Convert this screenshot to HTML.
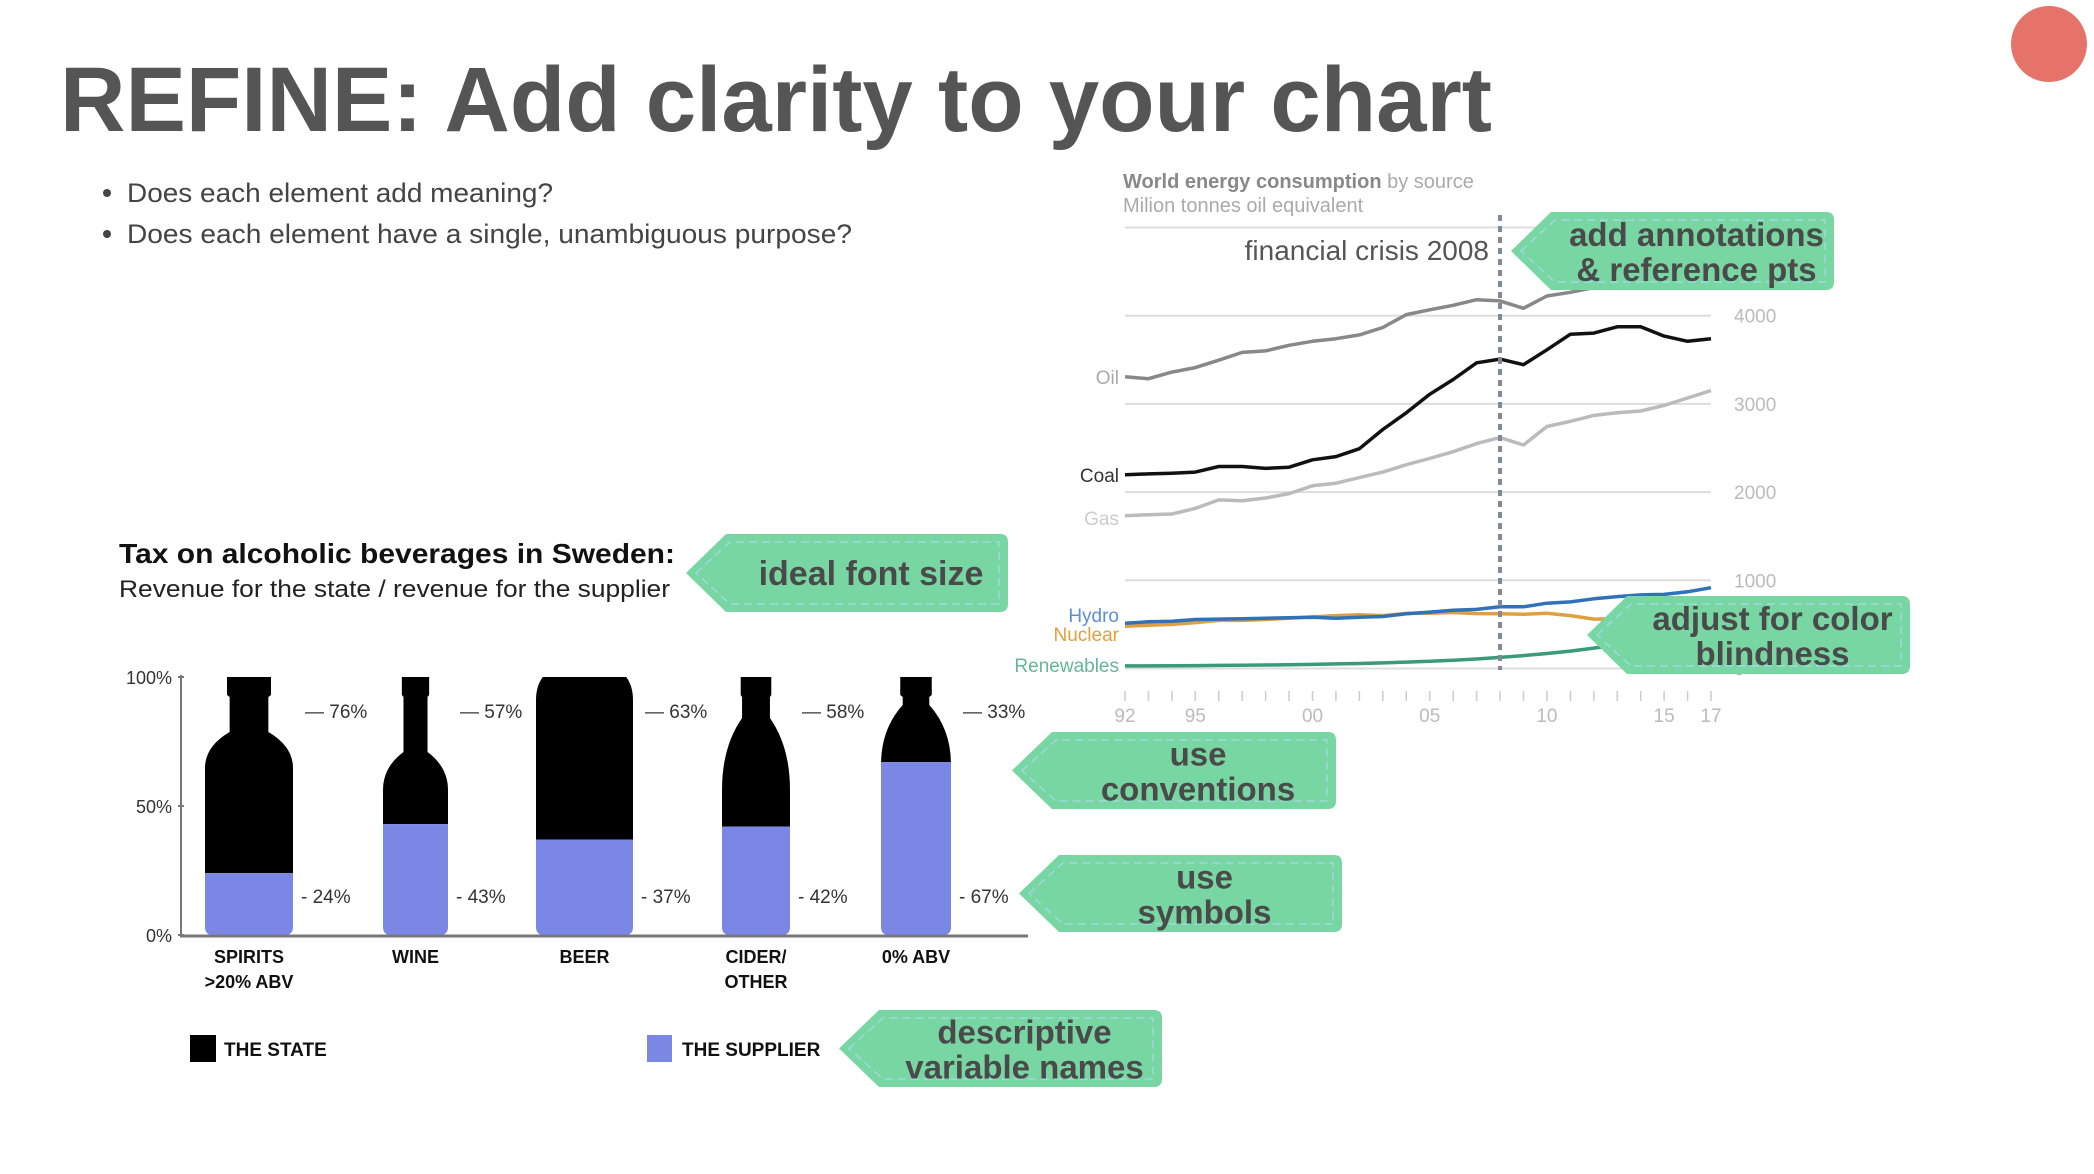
<!DOCTYPE html>
<html><head><meta charset="utf-8"><style>
html,body{margin:0;padding:0;background:#fff;}
svg{display:block;font-family:"Liberation Sans",sans-serif;}
</style></head><body>
<svg id="root" width="2094" height="1174" viewBox="0 0 2094 1174" xmlns="http://www.w3.org/2000/svg">
<circle cx="2049" cy="44" r="38" fill="#e5736a"/>
<text x="60" y="131" font-size="92" font-weight="bold" fill="#555" textLength="1432" lengthAdjust="spacingAndGlyphs">REFINE: Add clarity to your chart</text>
<g fill="#444" font-size="27">
<circle cx="107" cy="193" r="4" fill="#444"/>
<text x="127" y="202" textLength="426" lengthAdjust="spacingAndGlyphs">Does each element add meaning?</text>
<circle cx="107" cy="234" r="4" fill="#444"/>
<text x="127" y="243" textLength="725" lengthAdjust="spacingAndGlyphs">Does each element have a single, unambiguous purpose?</text>
</g>
<g id="energy"></g>
<g id="alcohol"></g>
<g id="tags"></g>
</svg>
<script>
const NS="http://www.w3.org/2000/svg";
function mk(parent,tag,attrs,text){const e=document.createElementNS(NS,tag);for(const k in attrs)e.setAttribute(k,attrs[k]);if(text!==undefined)e.textContent=text;parent.appendChild(e);return e;}

// ---------- Energy chart data ----------
const years=[1992,1993,1994,1995,1996,1997,1998,1999,2000,2001,2002,2003,2004,2005,2006,2007,2008,2009,2010,2011,2012,2013,2014,2015,2016,2017];
const oilValues=[3307,3286,3361,3412,3496,3584,3601,3664,3710,3739,3782,3866,4013,4067,4118,4181,4168,4084,4223,4265,4319,4349,4370,4391,4424,4454];
const coalValues=[2197,2206,2214,2227,2290,2290,2269,2282,2366,2403,2492,2710,2899,3109,3277,3466,3508,3445,3613,3790,3803,3874,3874,3769,3710,3739];
const gasValues=[1731,1744,1752,1815,1912,1903,1933,1983,2071,2101,2164,2227,2311,2382,2458,2550,2618,2534,2744,2803,2870,2899,2920,2983,3067,3151];
const hydroValues=[513,530,535,555,560,565,570,575,580,570,580,590,620,640,660,670,700,700,740,755,790,815,835,840,870,916];
const nuclearValues=[480,490,500,520,545,545,555,570,585,600,610,600,625,627,635,622,620,614,626,600,560,563,575,583,592,596];
const renewValues=[29,30,31,33,35,37,40,43,47,52,57,64,73,82,94,108,126,146,170,197,231,266,303,345,392,440];
const yTicks=[0,1000,2000,3000,4000,5000];
const yTickLabels=["0","1000","2000","3000","4000",""];
const xTickLabels=[[1992,"92"],[1995,"95"],[2000,"00"],[2005,"05"],[2010,"10"],[2015,"15"],[2017,"17"]];
const crisisYear=2008;

const eg=document.getElementById('energy');
const ex=y=>1125+(y-1992)*23.44;
const ey=v=>668.5-v*0.0882;
let t;
t=mk(eg,'text',{x:1123,y:188,'font-size':20,fill:'#888'});


t.innerHTML='<tspan font-weight="bold">World energy consumption</tspan><tspan fill="#aaa"> by source</tspan>';
t=mk(eg,'text',{x:1123,y:212,'font-size':20,fill:'#aaa'},'Milion tonnes oil equivalent');


yTicks.forEach((v,i)=>{
  const l=mk(eg,'line',{x1:1125,x2:1711,y1:ey(v),y2:ey(v),stroke:'#ddd','stroke-width':2});
  
  
  if(yTickLabels[i]){const tl=mk(eg,'text',{x:1734,y:ey(v)+7,'font-size':19,fill:'#bbb'},yTickLabels[i]);
  
  }
});
years.forEach(y=>{const l=mk(eg,'line',{x1:ex(y),x2:ex(y),y1:691,y2:701,stroke:'#ccc','stroke-width':1.5});

});
xTickLabels.forEach(([y,s])=>{const tl=mk(eg,'text',{x:ex(y),y:722,'font-size':19,fill:'#bbb','text-anchor':'middle'},s);

});
const series=[
 ['oil',oilValues,'#888','Oil','#aaa'],['coal',coalValues,'#111','Coal','#333'],['gas',gasValues,'#bbb','Gas','#ccc'],
 ['nuclear',nuclearValues,'#e0a040','Nuclear','#e0a040'],['hydro',hydroValues,'#2f72b8','Hydro','#5b8fd0'],['renewables',renewValues,'#3a9a7a','Renewables','#66b59a']];
const labelY={oil:384,coal:482,gas:525,hydro:622,nuclear:641,renewables:672};
series.forEach(([k,vals,col,lab,lc])=>{
  const d=vals.map((v,i)=>(i?'L':'M')+ex(years[i]).toFixed(1)+' '+ey(v).toFixed(1)).join(' ');
  const p=mk(eg,'path',{d:d,fill:'none',stroke:col,'stroke-width':3.5,'stroke-linejoin':'round'});
  
  
  const tl=mk(eg,'text',{x:1119,y:labelY[k],'font-size':19,fill:lc,'text-anchor':'end'},lab);
  
  
});
const cl=mk(eg,'line',{x1:ex(crisisYear),x2:ex(crisisYear),y1:215,y2:670,stroke:'#7f8a96','stroke-width':4,'stroke-dasharray':'6 5'});


t=mk(eg,'text',{x:1489,y:260,'font-size':28,fill:'#555','text-anchor':'end'},'financial crisis 2008');



// ---------- Alcohol chart data ----------
const categories=[["SPIRITS",">20% ABV"],["WINE"],["BEER"],["CIDER/","OTHER"],["0% ABV"]];
const stateShare=[76,57,63,58,33];
const supplierShare=[24,43,37,42,67];
const axisTicks=[0,50,100];

const ag=document.getElementById('alcohol');
const base=935, hgt=258;
const ay=p=>base-p/100*hgt;
t=mk(ag,'text',{x:119,y:563,'font-size':28,'font-weight':'bold',fill:'#111',textLength:556,lengthAdjust:'spacingAndGlyphs'},'Tax on alcoholic beverages in Sweden:');


t=mk(ag,'text',{x:119,y:597,'font-size':24,fill:'#222',textLength:551,lengthAdjust:'spacingAndGlyphs'},'Revenue for the state / revenue for the supplier');


axisTicks.forEach(p=>{const tl=mk(ag,'text',{x:172,y:ay(p)+7,'font-size':18,fill:'#333','text-anchor':'end'},p+'%');


mk(ag,'line',{x1:178,x2:184,y1:ay(p),y2:ay(p),stroke:'#777','stroke-width':2});});
let l=mk(ag,'line',{x1:181,x2:181,y1:675,y2:936,stroke:'#777','stroke-width':2});


// bottle shape specs (geometry only)
const shapes=[
 {x:205,w:88,nw:0.44,s1:732,s2:768,cap:0.5},
 {x:383,w:65,nw:0.37,s1:752,s2:790,cap:0.42},
 {x:536,w:97,nw:0.86,s1:677,s2:700,cap:0.86},
 {x:722,w:68,nw:0.41,s1:718,s2:790,cap:0.45},
 {x:881,w:70,nw:0.38,s1:705,s2:765,cap:0.45}];
const defs=mk(document.getElementById('root'),'defs',{});
shapes.forEach((s,i)=>{
  const cx=s.x+s.w/2, nw=s.w*s.nw/2, cw=s.w*s.cap/2, L=s.x, R=s.x+s.w, top=677;
  const d=`M${cx-cw} ${top} L${cx+cw} ${top} L${cx+cw} ${top+18} L${cx+nw} ${top+20} L${cx+nw} ${s.s1} Q${R} ${s.s1+(s.s2-s.s1)*0.4} ${R} ${s.s2} L${R} ${base-8} Q${R} ${base} ${R-8} ${base} L${L+8} ${base} Q${L} ${base} ${L} ${base-8} L${L} ${s.s2} Q${L} ${s.s1+(s.s2-s.s1)*0.4} ${cx-nw} ${s.s1} L${cx-nw} ${top+20} L${cx-cw} ${top+18} Z`;
  const cp=mk(defs,'clipPath',{id:'clip'+i});
  mk(cp,'path',{d:d});
  const g=mk(ag,'g',{'clip-path':'url(#clip'+i+')'});
  
  
  const r1=mk(g,'rect',{x:L,y:ay(100),width:s.w,height:ay(supplierShare[i])-ay(100),fill:'#000'});
  
  
  const r2=mk(g,'rect',{x:L,y:ay(supplierShare[i]),width:s.w,height:base-ay(supplierShare[i]),fill:'#7b87e4'});
  
  
  const tl=mk(ag,'text',{x:R+12,y:718,'font-size':19,fill:'#333'},'— '+stateShare[i]+'%');
  
  
  const bl=mk(ag,'text',{x:R+8,y:903,'font-size':19,fill:'#333'},'- '+supplierShare[i]+'%');
  
  
  categories[i].forEach((ln,j)=>{const c=mk(ag,'text',{x:cx,y:963+j*25,'font-size':18,'font-weight':'bold',fill:'#111','text-anchor':'middle'},ln);
  
  });
});
l=mk(ag,'line',{x1:180,x2:1028,y1:936,y2:936,stroke:'#777','stroke-width':3});


let r=mk(ag,'rect',{x:190,y:1035,width:26,height:27,fill:'#000'});


t=mk(ag,'text',{x:224,y:1056,'font-size':19,'font-weight':'bold',fill:'#111'},'THE STATE');


r=mk(ag,'rect',{x:647,y:1035,width:25,height:27,fill:'#7b87e4'});


t=mk(ag,'text',{x:682,y:1056,'font-size':19,'font-weight':'bold',fill:'#111'},'THE SUPPLIER');



// ---------- Annotation tags ----------
const tg=document.getElementById('tags');
function tag(name,x0,y0,x1,y1,lines){
  const g=mk(tg,'g',{});
  
  
  const ym=(y0+y1)/2, d=40;
  mk(g,'path',{d:`M${x0} ${ym} L${x0+d} ${y0} L${x1-8} ${y0} Q${x1} ${y0} ${x1} ${y0+8} L${x1} ${y1-8} Q${x1} ${y1} ${x1-8} ${y1} L${x0+d} ${y1} Z`,fill:'#78d6a3'});
  mk(g,'path',{d:`M${x0+10} ${ym} L${x0+d+4} ${y0+8} L${x1-9} ${y0+8} L${x1-9} ${y1-8} L${x0+d+4} ${y1-8} Z`,fill:'none',stroke:'#9ed8e0','stroke-width':1.5,'stroke-dasharray':'8 5'});
  const cx=(x0+d+x1)/2+4;
  if(lines.length===1){mk(g,'text',{x:cx,y:ym+12,'font-size':34,'font-weight':'bold',fill:'#4a4a4a','text-anchor':'middle'},lines[0]);}
  else lines.forEach((s,i)=>mk(g,'text',{x:cx,y:ym-5+i*35,'font-size':33,'font-weight':'bold',fill:'#4a4a4a','text-anchor':'middle'},s));
}
tag('tag-add-annotations',1511,212,1834,290,['add annotations','& reference pts']);
tag('tag-color-blindness',1587,596,1910,674,['adjust for color','blindness']);
tag('tag-ideal-font-size',686,534,1008,612,['ideal font size']);
tag('tag-use-conventions',1012,732,1336,809,['use','conventions']);
tag('tag-use-symbols',1019,855,1342,932,['use','symbols']);
tag('tag-descriptive-names',839,1010,1162,1087,['descriptive','variable names']);
</script>
</body></html>
